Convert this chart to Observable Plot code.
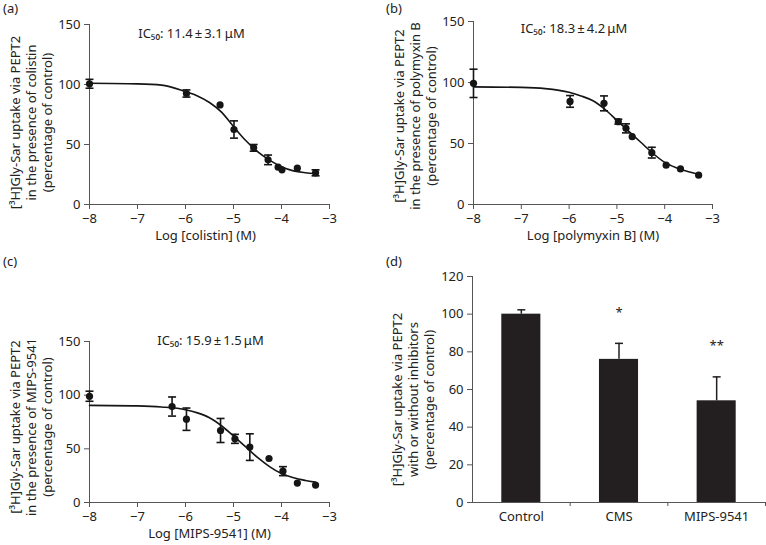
<!DOCTYPE html>
<html>
<head>
<meta charset="utf-8">
<script src="https://cdn.jsdelivr.net/npm/d3@7"></script>
<script src="https://cdn.jsdelivr.net/npm/@observablehq/plot@0.6"></script>
<style>
  body { margin: 0; background: #fff; }
  #root { position: relative; width: 766px; height: 545px; font-family: "Noto Sans", sans-serif; color: #222; overflow: hidden; }
  .panel { position: absolute; }
  .tag { position: absolute; font-size: 13px; line-height: 15px; color: #222; }
</style>
</head>
<body>
<div id="root"></div>
<script>
// ---------- data ----------
const xTicks = [-8, -7, -6, -5, -4, -3];
const yTicksCurve = [0, 50, 100, 150];
const yTicksBar = [0, 20, 40, 60, 80, 100, 120];
const fitLogX = [-8, -7, -6.5, -6, -5.75, -5.5, -5.25, -5, -4.75, -4.5, -4.25, -4, -3.75, -3.5, -3.3];

// (a) colistin
const colistinLogX = [-8, -5.98, -5.28, -4.99, -4.58, -4.28, -4.07, -3.99, -3.67, -3.29];
const colistinUptake = [100.6, 92.5, 83, 62.5, 47.2, 37.2, 31.1, 28.9, 30.3, 26.4];
const colistinErr = [3.7, 3, 0, 7.2, 2.8, 4, 0, 0, 0, 2.5];
const colistinFit = [101, 100.5, 99.5, 94, 90.5, 85, 77, 65, 53.5, 44, 37, 31.5, 28, 26.5, 25.8];

// (b) polymyxin B
const polymyxinLogX = [-8, -5.98, -5.27, -4.97, -4.81, -4.68, -4.27, -3.97, -3.67, -3.29];
const polymyxinUptake = [99.3, 84.5, 82.9, 67.9, 62.4, 55.6, 42.5, 32.2, 29.2, 24];
const polymyxinErr = [11.6, 4.8, 6.1, 2, 3.7, 0, 4.4, 0, 0, 0];
const polymyxinFit = [96.4, 96, 95, 92, 89, 85, 78, 69, 60, 51, 42, 34.5, 30, 26.8, 24.8];

// (c) MIPS-9541
const mipsLogX = [-8, -6.28, -5.98, -5.27, -4.97, -4.66, -4.26, -3.97, -3.67, -3.29];
const mipsUptake = [99, 89.4, 77.6, 67.1, 59.3, 51.6, 41, 29.2, 18.1, 16.2];
const mipsErr = [4.7, 8.9, 10.4, 11.2, 4.2, 12.4, 0, 4.2, 0, 0];
const mipsFit = [90.5, 90, 89, 86.5, 83.5, 79, 71.5, 62, 52, 42, 33.5, 27, 23, 20.5, 19];

// (d) bars
const groups = ["Control", "CMS", "MIPS-9541"];
const groupUptake = [100, 76, 54];
const groupErr = [2.3, 8.5, 12.7];
const groupSig = ["", "*", "**"];

// texts
const ic50Texts = ["IC\u2085\u2080: 11.4\u2009\u00b1\u20093.1\u2009\u03bcM", "IC\u2085\u2080: 18.3\u2009\u00b1\u20094.2\u2009\u03bcM", "IC\u2085\u2080: 15.9\u2009\u00b1\u20091.5\u2009\u03bcM"];
const xLabels = ["Log [colistin] (M)", "Log [polymyxin B] (M)", "Log [MIPS-9541] (M)"];
const yLabels = [
  "[\u00b3H]Gly-Sar uptake via PEPT2\nin the presence of colistin\n(percentage of control)",
  "[\u00b3H]Gly-Sar uptake via PEPT2\nin the presence of polymyxin B\n(percentage of control)",
  "[\u00b3H]Gly-Sar uptake via PEPT2\nin the presence of MIPS-9541\n(percentage of control)",
  "[\u00b3H]Gly-Sar uptake via PEPT2\nwith or without inhibitors\n(percentage of control)"
];
const panelTags = ["(a)", "(b)", "(c)", "(d)"];

// ---------- drawing ----------
const FONT = '"Noto Sans", sans-serif';
const AXIS = "#555";
const INK = "#151515";
const hCap = { draw(ctx) { ctx.moveTo(-4, 0); ctx.lineTo(4, 0); } };

function yTitle(text, dx, dy) {
  return Plot.text([text], { frameAnchor: "left", textAnchor: "middle", lineAnchor: "middle", rotate: -90, dx, dy, lineHeight: 1.23, fontSize: 13 });
}

function curvePanel(o) {
  const pts = o.xs.map((x, i) => ({ x, y: o.ys[i], e: o.es[i] }));
  const fit = fitLogX.map((x, i) => ({ x, y: o.fit[i] }));
  const eb = pts.filter(d => d.e > 0);
  return Plot.plot({
    width: 383, height: o.height,
    marginLeft: o.ml, marginRight: 54, marginTop: o.mt, marginBottom: o.height - o.mt - o.ph,
    style: { fontFamily: FONT, fontSize: "13px", color: "#222", background: "transparent", overflow: "visible" },
    x: { domain: [-8, -3] },
    y: { domain: [0, 150] },
    marks: [
      Plot.ruleX([-8], { stroke: AXIS }),
      Plot.ruleY([0], { stroke: AXIS }),
      Plot.axisX({ ticks: xTicks, tickSize: 5, tickPadding: 4, tickFormat: "d", stroke: AXIS, label: null }),
      Plot.axisY({ ticks: yTicksCurve, tickSize: 5, tickPadding: 4, tickFormat: "d", stroke: AXIS, label: null }),
      Plot.line(fit, { x: "x", y: "y", curve: "monotone-x", stroke: INK, strokeWidth: 1.6 }),
      Plot.ruleX(eb, { x: "x", y1: d => d.y - d.e, y2: d => d.y + d.e, stroke: INK, strokeWidth: 1.6 }),
      Plot.dot(eb, { x: "x", y: d => d.y + d.e, symbol: hCap, stroke: INK, fill: "none", strokeWidth: 1.6 }),
      Plot.dot(eb, { x: "x", y: d => d.y - d.e, symbol: hCap, stroke: INK, fill: "none", strokeWidth: 1.6 }),
      Plot.dot(pts, { x: "x", y: "y", r: 3.6, fill: INK, stroke: "none" }),
      Plot.text([o.ic], { frameAnchor: "top", dx: o.icDx, dy: o.icDy, fontSize: 13 }),
      Plot.text([o.xLabel], { frameAnchor: "bottom", dx: o.xlDx, dy: 35, fontSize: 13 }),
      yTitle(o.yLabel, -59, o.ylDy)
    ]
  });
}

function barPanel() {
  const data = groups.map((g, i) => ({ i, g, v: groupUptake[i], e: groupErr[i], s: groupSig[i] }));
  return Plot.plot({
    width: 383, height: 273,
    marginLeft: 89, marginRight: 1, marginTop: 4, marginBottom: 43,
    style: { fontFamily: FONT, fontSize: "13px", color: "#222", background: "transparent", overflow: "visible" },
    x: { domain: [-0.5, 2.5] },
    y: { domain: [0, 120] },
    marks: [
      Plot.rect(data, { x1: d => d.i - 0.2, x2: d => d.i + 0.2, y1: 0, y2: "v", fill: "#231f20" }),
      Plot.ruleX(data, { x: "i", y1: "v", y2: d => d.v + d.e, stroke: "#231f20", strokeWidth: 1.5 }),
      Plot.dot(data, { x: "i", y: d => d.v + d.e, symbol: hCap, stroke: "#231f20", fill: "none", strokeWidth: 1.5 }),
      Plot.text(data, { x: "i", y: d => d.v + d.e, text: "s", dy: -31, fontSize: 13 }),
      Plot.ruleX([-0.5], { stroke: AXIS }),
      Plot.ruleY([0], { stroke: AXIS }),
      Plot.axisX({ ticks: [0, 1, 2], tickSize: 0, tickPadding: 9, tickFormat: i => groups[i], label: null }),
      Plot.axisX({ ticks: [0.5, 1.5, 2.5], tickSize: 4, tickFormat: () => "", stroke: AXIS, label: null }),
      Plot.axisY({ ticks: yTicksBar, tickSize: 5, tickPadding: 4, tickFormat: "d", stroke: AXIS, label: null }),
      yTitle(yLabels[3], -60, 10)
    ]
  });
}

const root = document.getElementById("root");
function place(node, left, top) {
  const div = document.createElement("div");
  div.className = "panel";
  div.style.left = left + "px";
  div.style.top = top + "px";
  div.appendChild(node);
  root.appendChild(div);
}

place(curvePanel({ xs: colistinLogX, ys: colistinUptake, es: colistinErr, fit: colistinFit,
  ic: ic50Texts[0], xLabel: xLabels[0], yLabel: yLabels[0],
  height: 250, ml: 89, mt: 24, ph: 180, icDx: -18, icDy: 4, xlDx: -4, ylDy: 8 }), 0, 0);
place(curvePanel({ xs: polymyxinLogX, ys: polymyxinUptake, es: polymyxinErr, fit: polymyxinFit,
  ic: ic50Texts[1], xLabel: xLabels[1], yLabel: yLabels[1],
  height: 250, ml: 90, mt: 21, ph: 183, icDx: -19, icDy: 2, xlDx: 0, ylDy: 3 }), 383, 0);
place(curvePanel({ xs: mipsLogX, ys: mipsUptake, es: mipsErr, fit: mipsFit,
  ic: ic50Texts[2], xLabel: xLabels[2], yLabel: yLabels[2],
  height: 273, ml: 89, mt: 69, ph: 161, icDx: 1, icDy: -6, xlDx: 0, ylDy: 5 }), 0, 272);
place(barPanel(), 383, 272);

const tagPos = [[3, 1], [386, 1], [3, 254], [386, 254]];
panelTags.forEach((t, i) => {
  const d = document.createElement("div");
  d.className = "tag";
  d.textContent = t;
  d.style.left = tagPos[i][0] + "px";
  d.style.top = tagPos[i][1] + "px";
  root.appendChild(d);
});
</script>
</body>
</html>
